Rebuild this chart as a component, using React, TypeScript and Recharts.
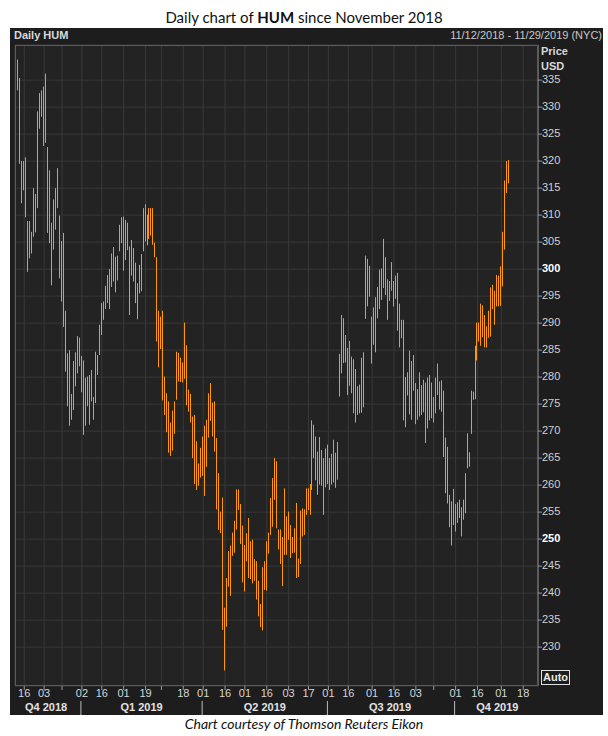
import React from "react";
import { Bar, CartesianGrid, ComposedChart, XAxis, YAxis } from "recharts";

// daily high / low, 12 Nov 2018 .. 7 Nov 2019
const HIGH = [
  339.5, 338.8, 335.4, 320.0, 320.0, 320.7, 308.9, 308.9, 306.9, 315.0,
  313.9, 329.2, 332.6, 333.1, 333.8, 336.2, 322.6, 318.3, 308.6, 312.9,
  315.0, 318.7, 309.9, 305.2, 306.7, 292.3, 284.4, 285.0, 276.9, 283.0,
  284.6, 287.6, 287.3, 283.9, 283.1, 279.9, 280.1, 280.4, 281.3, 276.3,
  284.7, 284.1, 289.7, 293.7, 294.0, 296.9, 298.9, 300.0, 302.9, 304.1,
  302.3, 302.5, 308.2, 309.6, 309.7, 309.1, 308.6, 304.2, 305.4, 303.9,
  301.2, 297.4, 300.8, 302.8, 311.3, 312.0, 310.1, 311.3, 311.3, 311.3,
  304.9, 302.2, 292.3, 291.2, 292.3, 280.1, 277.0, 275.5, 271.6, 273.8,
  275.5, 284.7, 284.5, 283.6, 282.7, 290.1, 285.9, 277.7, 276.9, 272.7,
  273.0, 268.1, 264.0, 266.9, 269.0, 271.0, 272.1, 277.0, 278.9, 275.3,
  275.5, 268.7, 262.2, 255.1, 257.7, 237.3, 242.8, 247.8, 248.8, 251.2,
  253.4, 259.2, 259.2, 256.5, 252.5, 248.9, 251.1, 253.9, 249.6, 249.9,
  246.3, 245.9, 242.3, 238.0, 244.8, 245.9, 249.6, 251.2, 257.6, 261.3,
  265.0, 264.4, 251.8, 251.8, 250.4, 259.4, 254.2, 255.1, 252.6, 250.4,
  252.0, 256.7, 246.4, 255.3, 255.7, 255.5, 259.4, 259.4, 260.2, 272.0,
  271.2, 269.0, 266.2, 268.9, 266.5, 265.0, 266.8, 267.5, 265.0, 265.8,
  268.4, 266.0, 268.0, 284.3, 291.5, 290.9, 287.8, 285.4, 286.7, 283.8,
  283.3, 281.5, 278.3, 278.6, 283.6, 284.6, 302.5, 301.9, 300.6, 291.2,
  292.9, 294.8, 296.7, 299.9, 300.1, 305.6, 302.2, 298.1, 297.8, 301.3,
  297.8, 298.8, 299.3, 293.6, 290.6, 290.6, 280.0, 280.9, 284.9, 283.0,
  284.1, 278.9, 277.8, 280.9, 278.5, 279.5, 279.0, 279.9, 280.4, 279.0,
  276.3, 279.9, 282.5, 279.2, 279.4, 277.5, 268.8, 267.1, 258.2, 257.0,
  259.3, 256.5, 256.8, 257.3, 255.9, 257.3, 262.2, 269.6, 266.1, 277.5,
  277.3, 285.8, 290.1, 290.1, 293.6, 293.3, 291.5, 289.4, 292.3, 296.6,
  297.1, 296.0, 298.9, 298.8, 300.5, 306.9, 316.4, 320.0, 320.2,
];

const LOW = [
  335.7, 333.1, 319.5, 312.2, 314.6, 309.6, 299.5, 302.0, 302.9, 306.0,
  306.8, 311.3, 326.0, 328.2, 322.8, 323.4, 306.7, 304.8, 297.0, 303.6,
  307.3, 311.3, 298.3, 294.0, 289.3, 281.0, 274.6, 271.0, 272.1, 273.9,
  278.3, 280.7, 282.0, 277.2, 269.3, 271.0, 274.6, 271.2, 275.5, 272.1,
  275.2, 280.4, 284.1, 287.8, 290.6, 292.6, 293.7, 292.6, 296.7, 297.7,
  295.7, 297.9, 303.3, 304.8, 299.7, 301.7, 303.5, 291.5, 298.8, 297.7,
  293.7, 290.7, 295.5, 295.9, 303.3, 305.1, 304.4, 305.6, 306.2, 304.5,
  302.2, 286.6, 281.8, 285.2, 275.7, 273.0, 269.8, 266.0, 265.4, 266.4,
  269.5, 275.8, 279.2, 279.1, 279.0, 279.7, 274.8, 273.6, 271.6, 265.0,
  260.2, 259.1, 259.9, 261.4, 261.7, 258.0, 263.4, 268.8, 271.9, 269.0,
  266.2, 255.5, 251.7, 251.1, 233.2, 225.7, 233.8, 241.2, 239.5, 246.9,
  247.5, 251.8, 255.4, 249.1, 242.0, 240.3, 245.9, 242.8, 242.6, 241.8,
  242.3, 238.8, 235.7, 233.7, 233.1, 240.6, 240.5, 247.3, 250.8, 252.3,
  257.3, 252.0, 248.1, 245.4, 241.3, 247.1, 247.1, 249.9, 246.5, 247.4,
  247.5, 242.8, 243.0, 245.4, 250.5, 250.8, 254.5, 255.4, 254.5, 259.1,
  265.0, 260.9, 258.2, 260.1, 259.9, 254.5, 259.6, 260.2, 259.1, 260.1,
  260.5, 259.5, 261.0, 276.4, 280.7, 282.6, 282.7, 276.7, 278.4, 277.0,
  273.3, 271.6, 273.0, 273.3, 273.4, 274.4, 290.8, 293.1, 294.9, 282.5,
  286.0, 284.6, 290.9, 292.6, 294.3, 296.5, 295.2, 290.6, 294.1, 296.0,
  293.1, 294.5, 288.6, 285.5, 287.2, 272.0, 270.7, 276.6, 273.1, 272.1,
  277.5, 271.3, 272.1, 272.7, 273.0, 273.5, 267.8, 270.5, 272.0, 272.4,
  271.6, 273.3, 276.7, 274.0, 273.6, 265.2, 258.5, 256.6, 252.2, 248.8,
  252.6, 251.4, 253.0, 253.9, 250.5, 253.6, 254.8, 263.1, 263.4, 269.5,
  275.8, 275.9, 283.1, 286.6, 285.8, 287.4, 285.5, 285.5, 287.3, 287.5,
  292.6, 289.7, 293.1, 293.1, 293.2, 296.8, 303.6, 314.1, 315.9,
];

const HOLIDAYS = [
  "2018-11-22", "2018-12-05", "2018-12-25", "2019-01-01", "2019-01-21", "2019-02-18",
  "2019-04-19", "2019-05-27", "2019-07-04", "2019-09-02", "2019-11-28",
];

const PRICE_TICKS = [230, 235, 240, 245, 250, 255, 260, 265, 270, 275, 280, 285, 290, 295, 300, 305, 310, 315, 320, 325, 330, 335];
const BOLD_PRICES = [250, 300];

const DATE_TICKS = [
  "2018-11-16", "2018-12-03", "2018-12-17", "2019-01-02", "2019-01-16", "2019-02-01", "2019-02-19",
  "2019-03-01", "2019-03-18", "2019-04-01", "2019-04-16", "2019-05-01", "2019-05-16", "2019-06-03",
  "2019-06-17", "2019-07-01", "2019-07-16", "2019-08-01", "2019-08-16", "2019-09-03", "2019-09-16",
  "2019-10-01", "2019-10-16", "2019-11-01", "2019-11-18",
];
const UNLABELED = ["2018-12-17", "2019-03-01", "2019-09-16"];

const QUARTER_LABELS: Record<string, string> = {
  "2018-12-04": "Q4 2018",
  "2019-02-14": "Q1 2019",
  "2019-05-15": "Q2 2019",
  "2019-08-14": "Q3 2019",
  "2019-10-30": "Q4 2019",
};
const QUARTER_STARTS = ["2019-01-02", "2019-04-01", "2019-07-01", "2019-10-01"];

function tradingDays(start: string, end: string) {
  const out: string[] = [];
  const d = new Date(start + "T00:00:00Z");
  const e = new Date(end + "T00:00:00Z");
  while (d <= e) {
    const wd = d.getUTCDay();
    const s = d.toISOString().slice(0, 10);
    if (wd !== 0 && wd !== 6 && !HOLIDAYS.includes(s)) out.push(s);
    d.setUTCDate(d.getUTCDate() + 1);
  }
  return out;
}

const DATES = tradingDays("2018-11-12", "2019-11-29");

const data = DATES.map((d, i) => ({
  d,
  range: i < HIGH.length ? [LOW[i], HIGH[i]] : null,
}));

const ORANGE = "#ff9900";
const AXIS_FONT = "'Liberation Sans', Arial, sans-serif";

const PLOT = { left: 15, top: 45, right: 538, bottom: 686 };
// the date scale runs a little past the price axis, as in Eikon
const X_PAD = { left: 0.3, right: -2.1 };

const HLBar = (props: any) => {
  const { x, y, width, height, payload } = props;
  if (payload == null || payload.range == null || !isFinite(y) || !isFinite(height)) return null;
  const top = height < 0 ? y + height : y;
  return <rect x={Math.floor(x + width / 2)} y={top} width={1} height={Math.max(1, Math.abs(height))} fill={ORANGE} />;
};

const DayTick = (props: any) => {
  const { x, payload } = props;
  const v = payload.value as string;
  return (
    <g>
      <line x1={x} x2={x} y1={PLOT.bottom} y2={PLOT.bottom + 4} stroke="#9a9a9a" />
      {!UNLABELED.includes(v) && (
        <text x={x} y={PLOT.bottom + 8} textAnchor="middle" dominantBaseline="middle" fill="#d6d6d6" fontSize={11} fontFamily={AXIS_FONT}>
          {v.slice(8)}
        </text>
      )}
    </g>
  );
};

const QuarterTick = (props: any) => {
  const { x, payload } = props;
  const v = payload.value as string;
  if (QUARTER_STARTS.includes(v)) {
    return <line x1={x - 1} x2={x - 1} y1={PLOT.bottom + 15} y2={PLOT.bottom + 29} stroke="#bdbdbd" />;
  }
  return (
    <text x={x} y={PLOT.bottom + 22} textAnchor="middle" dominantBaseline="middle" fill="#e2e2e2" fontSize={11} fontWeight="bold" fontFamily={AXIS_FONT}>
      {QUARTER_LABELS[v]}
    </text>
  );
};

const PriceTick = (props: any) => {
  const { y, payload } = props;
  const bold = BOLD_PRICES.includes(payload.value);
  return (
    <g>
      <line x1={PLOT.right} x2={PLOT.right + 4} y1={y} y2={y} stroke="#9a9a9a" />
      <text x={PLOT.right + 4} y={y} dominantBaseline="middle" fill={bold ? "#ffffff" : "#d0d0d0"} fontSize={11} fontWeight={bold ? "bold" : "normal"} fontFamily={AXIS_FONT}>
        {payload.value}
      </text>
    </g>
  );
};

export default function App() {
  return (
    <div style={{ position: "absolute", left: 0, top: 0, width: 608, height: 736, background: "#ffffff", overflow: "hidden" }}>
      <div style={{ position: "absolute", left: 0, top: 8, width: 608, textAlign: "center", fontFamily: "Lato, 'Open Sans', sans-serif", fontSize: 15, color: "#111" }}>
        Daily chart of <b>HUM</b> since November 2018
      </div>
      <div style={{ position: "absolute", left: 10, top: 28, width: 593, height: 687, background: "#1d1d1d" }} />
      <div style={{ position: "absolute", left: 14, top: 29, fontFamily: AXIS_FONT, fontSize: 11, fontWeight: "bold", color: "#d8d8d8" }}>Daily HUM</div>
      <div style={{ position: "absolute", right: 6, top: 29, fontFamily: AXIS_FONT, fontSize: 11, color: "#c8c8c8" }}>11/12/2018 - 11/29/2019 (NYC)</div>
      <div style={{ position: "absolute", left: 541, top: 44, fontFamily: AXIS_FONT, fontSize: 11, fontWeight: "bold", color: "#d8d8d8", lineHeight: "15px" }}>
        Price
        <br />
        USD
      </div>
      <div style={{ position: "absolute", left: 0, top: 0 }}>
        <ComposedChart width={608} height={736} data={data} margin={{ top: PLOT.top, left: PLOT.left, right: 8, bottom: 18 }} barCategoryGap={0}>
          <CartesianGrid stroke="#383838" fill="#232323" />
          <XAxis dataKey="d" type="category" ticks={DATE_TICKS} interval={0} tick={<DayTick />} tickLine={false} axisLine={false} height={14} padding={X_PAD} />
          <XAxis xAxisId="q" dataKey="d" type="category" ticks={[...Object.keys(QUARTER_LABELS), ...QUARTER_STARTS]} interval={0} tick={<QuarterTick />} tickLine={false} axisLine={false} height={18} padding={X_PAD} />
          <YAxis orientation="right" domain={[222.8, 341.5]} allowDataOverflow ticks={PRICE_TICKS} interval={0} tick={<PriceTick />} tickLine={false} axisLine={{ stroke: "#8c8c8c" }} width={62} />
          <Bar dataKey="range" barSize={1} shape={<HLBar />} isAnimationActive={false} />
        </ComposedChart>
      </div>
      <div
        style={{
          position: "absolute",
          left: PLOT.left,
          top: PLOT.top,
          width: PLOT.right - PLOT.left,
          height: PLOT.bottom - PLOT.top,
          boxSizing: "border-box",
          borderLeft: "1px solid #5c5c5c",
          borderTop: "1px solid #5c5c5c",
          borderBottom: "1px solid #5c5c5c",
          pointerEvents: "none",
        }}
      />
      <div style={{ position: "absolute", left: 541, top: 670, border: "1px solid #e0e0e0", padding: "0 1px", fontFamily: AXIS_FONT, fontSize: 11, fontWeight: "bold", color: "#e8e8e8", lineHeight: "13px" }}>
        Auto
      </div>
      <div style={{ position: "absolute", left: 0, top: 715, width: 608, textAlign: "center", fontFamily: "Lato, 'Open Sans', sans-serif", fontSize: 14, fontStyle: "italic", color: "#111" }}>
        Chart courtesy of Thomson Reuters Eikon
      </div>
    </div>
  );
}
